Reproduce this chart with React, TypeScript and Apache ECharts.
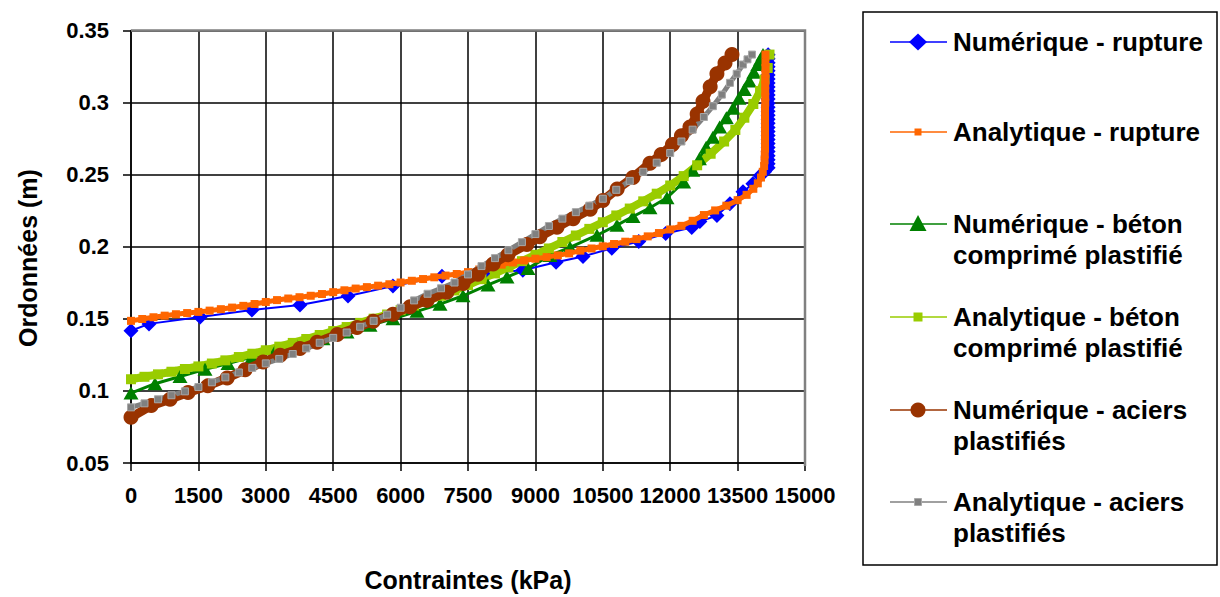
import React, { useEffect, useRef } from "react";
import * as echarts from "echarts";

const FONT = '"Liberation Sans", Arial, Helvetica, sans-serif';

// Stress (kPa) vs ordinate (m) for each model
const seriesNames = [
  "Numérique - rupture",
  "Analytique - rupture",
  "Numérique - béton\ncomprimé plastifié",
  "Analytique - béton\ncomprimé plastifié",
  "Numérique - aciers\nplastifiés",
  "Analytique - aciers\nplastifiés",
];

const numRupture: [number, number][] = [
  [0, 0.1417], [400, 0.1465], [1540, 0.1513], [2690, 0.1561], [3760, 0.1596],
  [4830, 0.1658], [5830, 0.1727], [6920, 0.1796], [7830, 0.1815], [8720, 0.1837],
  [9460, 0.1892], [10060, 0.1933], [10700, 0.1989], [11300, 0.2037], [11900, 0.2092],
  [12480, 0.2133], [12660, 0.2175], [13040, 0.2216], [13330, 0.2299], [13620, 0.2381],
  [13840, 0.2437], [14000, 0.2492], [14100, 0.2520],
  [14180, 0.2548], [14180, 0.2576], [14180, 0.2604], [14180, 0.2632], [14180, 0.2660],
  [14180, 0.2688], [14180, 0.2716], [14180, 0.2744], [14180, 0.2772], [14180, 0.2800],
  [14180, 0.2828], [14180, 0.2856], [14180, 0.2884], [14180, 0.2912], [14180, 0.2940],
  [14180, 0.2968], [14180, 0.2996], [14180, 0.3024], [14180, 0.3052], [14180, 0.3080],
  [14180, 0.3108], [14180, 0.3136], [14180, 0.3164], [14180, 0.3192], [14180, 0.3220],
  [14180, 0.3248], [14180, 0.3276], [14180, 0.3304], [14180, 0.3332],
];

const anaRupture: [number, number][] = [
  [0, 0.1486], [250, 0.1499], [500, 0.1511], [750, 0.1522], [1000, 0.1532],
  [1250, 0.1540], [1500, 0.1548], [1750, 0.1557], [2000, 0.1567], [2250, 0.1578],
  [2500, 0.1590], [2750, 0.1603], [3000, 0.1617], [3250, 0.1630], [3500, 0.1641],
  [3750, 0.1650], [4000, 0.1660], [4250, 0.1672], [4500, 0.1685], [4750, 0.1698],
  [5000, 0.1710], [5250, 0.1720], [5500, 0.1730], [5750, 0.1740], [6000, 0.1752],
  [6250, 0.1764], [6500, 0.1776], [6750, 0.1788], [7000, 0.1800], [7250, 0.1811],
  [7500, 0.1824], [7750, 0.1842], [8000, 0.1860], [8250, 0.1876], [8500, 0.1891],
  [8750, 0.1905], [9000, 0.1917], [9250, 0.1928], [9500, 0.1940], [9750, 0.1954],
  [10000, 0.1973], [10250, 0.1988], [10500, 0.2003], [10750, 0.2019], [11000, 0.2035],
  [11250, 0.2053], [11500, 0.2072], [11750, 0.2095], [12000, 0.2120], [12250, 0.2145],
  [12500, 0.2180], [12750, 0.2220], [13000, 0.2252], [13250, 0.2285], [13500, 0.2323],
  [13700, 0.2360], [13850, 0.2402], [13950, 0.2440], [14020, 0.2480], [14060, 0.2520],
  [14090, 0.2560], [14100, 0.2600], [14105, 0.2640], [14110, 0.2680], [14110, 0.2720],
  [14110, 0.2760], [14110, 0.2800], [14110, 0.2840], [14110, 0.2880], [14110, 0.2920],
  [14110, 0.2960], [14115, 0.3000], [14115, 0.3040], [14115, 0.3080], [14115, 0.3120],
  [14115, 0.3160], [14120, 0.3200], [14120, 0.3240], [14120, 0.3280], [14120, 0.3333],
];

const numBeton: [number, number][] = [
  [0, 0.0985], [534, 0.1050], [1090, 0.1100], [1647, 0.1150], [2159, 0.1190],
  [2693, 0.1235], [3205, 0.1275], [3694, 0.1315], [4273, 0.1362], [4807, 0.1408],
  [5319, 0.1455], [5831, 0.1500], [6365, 0.1552], [6877, 0.1602], [7389, 0.1660],
  [7945, 0.1735], [8368, 0.1790], [8835, 0.1850], [9325, 0.1940], [9770, 0.1995],
  [10371, 0.2080], [10816, 0.2150], [11172, 0.2210], [11550, 0.2270], [11929, 0.2340],
  [12300, 0.2450], [12500, 0.2530], [12650, 0.2610], [12800, 0.2690], [12950, 0.2760],
  [13100, 0.2830], [13250, 0.2895], [13400, 0.2960], [13530, 0.3030], [13650, 0.3090],
  [13760, 0.3150], [13860, 0.3210], [13950, 0.3265], [14010, 0.3300], [14065, 0.3333],
];

const anaBeton: [number, number][] = [
  [0, 0.1081], [300, 0.1098], [600, 0.1115], [900, 0.1133], [1200, 0.1152],
  [1500, 0.1170], [1800, 0.1190], [2100, 0.1212], [2400, 0.1235], [2700, 0.1258],
  [3000, 0.1282], [3300, 0.1307], [3600, 0.1333], [3900, 0.1360], [4200, 0.1388],
  [4500, 0.1415], [4800, 0.1443], [5100, 0.1472], [5400, 0.1501], [5700, 0.1530],
  [6000, 0.1560], [6300, 0.1592], [6600, 0.1625], [6900, 0.1660], [7200, 0.1697],
  [7500, 0.1735], [7800, 0.1775], [8100, 0.1815], [8400, 0.1857], [8700, 0.1900],
  [9000, 0.1944], [9300, 0.1988], [9600, 0.2033], [9900, 0.2078], [10200, 0.2124],
  [10500, 0.2170], [10800, 0.2217], [11100, 0.2265], [11400, 0.2315], [11700, 0.2368],
  [12000, 0.2425], [12300, 0.2490], [12600, 0.2565], [12900, 0.2645], [13200, 0.2730],
  [13450, 0.2810], [13650, 0.2895], [13850, 0.2990], [14000, 0.3080], [14100, 0.3160],
  [14170, 0.3240], [14210, 0.3333],
];

const numAciers: [number, number][] = [
  [0, 0.0817], [450, 0.0898], [870, 0.0943], [1270, 0.0989], [1710, 0.1035],
  [2140, 0.1090], [2540, 0.1146], [2940, 0.1200], [3320, 0.1248], [3760, 0.1295],
  [4140, 0.1338], [4590, 0.1392], [5030, 0.1440], [5390, 0.1483], [5830, 0.1532],
  [6210, 0.1583], [6590, 0.1628], [7030, 0.1685], [7390, 0.1745], [7720, 0.1810],
  [8060, 0.1880], [8390, 0.1945], [8810, 0.2015], [9100, 0.2070], [9480, 0.2135],
  [9840, 0.2195], [10220, 0.2260], [10500, 0.2320], [10820, 0.2400], [11170, 0.2480],
  [11550, 0.2580], [11800, 0.2640], [12050, 0.2710], [12250, 0.2770], [12440, 0.2830],
  [12600, 0.2920], [12730, 0.3010], [12890, 0.3110], [13040, 0.3200], [13220, 0.3275],
  [13375, 0.3333],
];

const anaAciers: [number, number][] = [
  [0, 0.0886], [300, 0.0914], [600, 0.0942], [900, 0.0970], [1200, 0.0997],
  [1500, 0.1027], [1800, 0.1060], [2100, 0.1094], [2400, 0.1128], [2700, 0.1160],
  [3000, 0.1191], [3300, 0.1222], [3600, 0.1256], [3900, 0.1295], [4200, 0.1334],
  [4500, 0.1368], [4800, 0.1405], [5100, 0.1445], [5400, 0.1486], [5700, 0.1529],
  [6000, 0.1577], [6300, 0.1628], [6600, 0.1674], [6900, 0.1712], [7200, 0.1752],
  [7500, 0.1808], [7800, 0.1866], [8100, 0.1921], [8400, 0.1976], [8700, 0.2032],
  [9000, 0.2088], [9300, 0.2144], [9600, 0.2195], [9900, 0.2240], [10200, 0.2285],
  [10500, 0.2333], [10800, 0.2395], [11100, 0.2457], [11400, 0.2520], [11700, 0.2583],
  [12000, 0.2650], [12250, 0.2730], [12500, 0.2812], [12750, 0.2900], [12950, 0.2975],
  [13150, 0.3055], [13330, 0.3137], [13480, 0.3200], [13620, 0.3264], [13720, 0.3300],
  [13820, 0.3333],
];

const xTicks = { min: 0, max: 15000, interval: 1500 };
const yTicks = { min: 0.05, max: 0.35, interval: 0.05 };
const xTitle = "Contraintes (kPa)";
const yTitle = "Ordonnées (m)";

const colors = ["#0000FF", "#FF6600", "#008000", "#99CC00", "#993300", "#808080"];

export default function App() {
  const ref = useRef<HTMLDivElement>(null);

  useEffect(() => {
    if (!ref.current) return;
    const chart = echarts.init(ref.current, null, { renderer: "svg" });

    const styles = [
      { symbol: "diamond", size: 15, line: 2, z: 2 },
      { symbol: "rect", size: 8, line: 5, z: 3 },
      { symbol: "triangle", size: [15, 13], line: 3, z: 2 },
      { symbol: "rect", size: 10, line: 8, z: 2 },
      { symbol: "circle", size: 15, line: 9, z: 4 },
      { symbol: "rect", size: 7, line: 5, z: 4 },
    ];
    const datasets = [numRupture, anaRupture, numBeton, anaBeton, numAciers, anaAciers];

    const series = datasets.map((d, i) => ({
      type: "line",
      name: seriesNames[i],
      data: d,
      symbol: styles[i].symbol,
      symbolSize: styles[i].size,
      z: styles[i].z,
      lineStyle: { color: colors[i], width: styles[i].line, join: "round" },
      itemStyle:
        i === 5
          ? { color: colors[i], borderColor: "#a8a8a8", borderWidth: 1 }
          : { color: colors[i], borderWidth: 0 },
      emphasis: { disabled: true },
      clip: false,
    }));

    // legend box drawn as graphics
    const rowY = [42, 132, 224, 317, 410, 502];
    const lineGap = 31;
    const lx1 = 890, lx2 = 947, mx = 918, tx = 953;
    const els: any[] = [
      {
        type: "rect",
        shape: { x: 863, y: 12, width: 354, height: 553 },
        style: { fill: "#fff", stroke: "#000", lineWidth: 1.5 },
        z: 1,
      },
    ];
    const markerOf = (i: number, y: number) => {
      const c = colors[i];
      switch (i) {
        case 0:
          return { type: "polygon", shape: { points: [[mx, y - 8.5], [mx + 9, y], [mx, y + 8.5], [mx - 9, y]] }, style: { fill: c } };
        case 1:
          return { type: "rect", shape: { x: mx - 3.5, y: y - 3.5, width: 7, height: 7 }, style: { fill: c } };
        case 2:
          return { type: "polygon", shape: { points: [[mx, y - 9], [mx + 8.5, y + 7], [mx - 8.5, y + 7]] }, style: { fill: c } };
        case 3:
          return { type: "rect", shape: { x: mx - 4.5, y: y - 4.5, width: 9, height: 9 }, style: { fill: c } };
        case 4:
          return { type: "circle", shape: { cx: mx, cy: y, r: 7.5 }, style: { fill: c } };
        default:
          return { type: "rect", shape: { x: mx - 3.5, y: y - 3.5, width: 7, height: 7 }, style: { fill: c, stroke: "#a8a8a8", lineWidth: 1 } };
      }
    };
    seriesNames.forEach((name, i) => {
      const y = rowY[i];
      els.push({
        type: "line",
        shape: { x1: lx1, y1: y, x2: lx2, y2: y },
        style: { stroke: colors[i], lineWidth: 1.5 },
        z: 2,
      });
      els.push({ ...markerOf(i, y), z: 3 });
      name.split("\n").forEach((part, k) => {
        els.push({
          type: "text",
          x: tx,
          y: y + k * lineGap,
          style: {
            text: part,
            fill: "#000",
            font: `bold 26px ${FONT}`,
            verticalAlign: "middle",
            align: "left",
          },
          z: 3,
        });
      });
    });

    // vertical axis title
    els.push({
      type: "text",
      x: 28,
      y: 258,
      rotation: Math.PI / 2,
      style: {
        text: yTitle,
        fill: "#000",
        font: `bold 25px ${FONT}`,
        align: "center",
        verticalAlign: "middle",
      },
      z: 3,
    });

    // grey frame along the top and right of the plot area
    els.push({
      type: "polyline",
      shape: { points: [[131, 30.5], [805, 30.5], [805, 466]] },
      style: { stroke: "#808080", lineWidth: 2.5, fill: null },
      z: 50,
    });

    const tickLabel = { fontSize: 22, fontWeight: "bold", color: "#000", fontFamily: FONT };

    chart.setOption({
      animation: false,
      backgroundColor: "#fff",
      textStyle: { fontFamily: FONT },
      grid: { left: 131, top: 30.5, width: 674, height: 435.5, containLabel: false },
      xAxis: {
        type: "value",
        ...xTicks,
        name: xTitle,
        nameLocation: "middle",
        nameGap: 104,
        nameTextStyle: { fontSize: 25, fontWeight: "bold", color: "#000", fontFamily: FONT },
        axisLine: { show: true, onZero: false, lineStyle: { color: "#000", width: 1.5 } },
        axisTick: { show: true, inside: false, length: 8, lineStyle: { color: "#000", width: 1.5 } },
        axisLabel: { ...tickLabel, margin: 21, formatter: (v: number) => String(v) },
        splitLine: { show: true, lineStyle: { color: "#000", width: 1.5 } },
      },
      yAxis: {
        type: "value",
        ...yTicks,
        axisLine: { show: true, onZero: false, lineStyle: { color: "#000", width: 1.5 } },
        axisTick: { show: true, inside: false, length: 8, lineStyle: { color: "#000", width: 1.5 } },
        axisLabel: { ...tickLabel, margin: 22, formatter: (v: number) => String(+v.toFixed(2)) },
        splitLine: { show: true, lineStyle: { color: "#000", width: 1.5 } },
      },
      graphic: { elements: els },
      series,
    });

    return () => chart.dispose();
  }, []);

  return (
    <div
      ref={ref}
      style={{ position: "fixed", left: 0, top: 0, width: 1220, height: 597, background: "#fff" }}
    />
  );
}
